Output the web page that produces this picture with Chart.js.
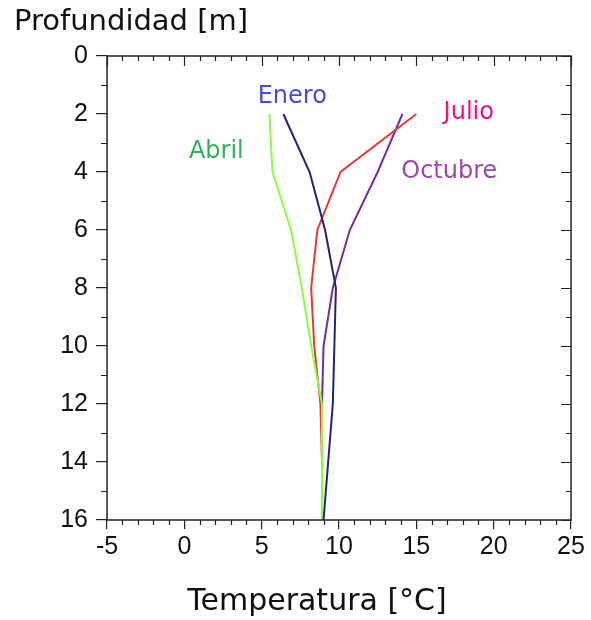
<!DOCTYPE html>
<html>
<head>
<meta charset="utf-8">
<script src="https://cdn.jsdelivr.net/npm/chart.js@4.4.0/dist/chart.umd.min.js"></script>
<style>
  html, body { margin: 0; padding: 0; background: #fff; }
  #wrap { width: 591px; height: 620px; }
</style>
</head>
<body>
<div id="wrap"><canvas id="tempChart"></canvas></div>
<script>
// depth of each reading [m]
var depths = [2, 4, 6, 8, 10, 12, 14, 16];

// temperature per month [°C]
var enero   = [6.4, 8.1, 9.1, 9.8, 9.7, 9.6, 9.3, 9.0];
var abril   = [5.5, 5.7, 6.9, 7.6, 8.2, 8.9, 8.9, 8.9];
var julio   = [15.0, 10.1, 8.6, 8.2, 8.4, 8.8, 8.9];
var octubre = [14.1, 12.5, 10.7, 9.6, 9.0, 8.9];

// axis ticks
var xTicks = [-5, 0, 5, 10, 15, 20, 25];
var yTicks = [0, 2, 4, 6, 8, 10, 12, 14, 16];

// month names written next to the curves (in data units)
var labelNames = ['Enero', 'Abril', 'Julio', 'Octubre'];
var labelX     = [6.98, 2.07, 18.39, 17.13];
var labelY     = [1.41, 3.31, 1.97, 4.0];
var labelColor = ['#4a4ad8', '#2eb35a', '#ff0a84', '#9a4aaa'];

var xTitle = 'Temperatura [°C]';

function toPoints(temps) {
    return temps.map(function (t, i) { return { x: t, y: depths[i] }; });
}

// frame, minor ticks, mirrored ticks on top/right, curve names and x title
var frameTicks = {
    id: 'frameTicks',
    afterDraw: function (chart) {
        var c = chart.ctx, a = chart.chartArea;
        var xs = chart.scales.x, ys = chart.scales.y;
        c.save();
        c.strokeStyle = '#222';
        c.lineWidth = 1.5;
        c.strokeRect(a.left, a.top, a.right - a.left, a.bottom - a.top);
        c.lineWidth = 1.2;
        c.beginPath();
        for (var v = -5; v <= 25; v++) {
            var px = Math.round(xs.getPixelForValue(v)) + 0.5;
            var major = v % 5 === 0;
            if (!major) {
                c.moveTo(px, a.bottom); c.lineTo(px, a.bottom + 5);
            }
            c.moveTo(px, a.top); c.lineTo(px, a.top + (major ? 10 : 5));
        }
        for (var d = 0; d <= 16; d++) {
            var py = Math.round(ys.getPixelForValue(d)) + 0.5;
            var maj = d % 2 === 0;
            if (!maj) {
                c.moveTo(a.left, py); c.lineTo(a.left - 6, py);
            }
            c.moveTo(a.right, py); c.lineTo(a.right - (maj ? 10 : 5), py);
        }
        c.stroke();

        c.textAlign = 'center';
        c.textBaseline = 'middle';
        c.font = '24px "DejaVu Sans"';
        labelNames.forEach(function (name, i) {
            c.fillStyle = labelColor[i];
            c.fillText(name, xs.getPixelForValue(labelX[i]), ys.getPixelForValue(labelY[i]));
        });

        // the x title sits left of the plot centre in the original
        c.font = '30px "DejaVu Sans"';
        c.fillStyle = '#111';
        c.fillText(xTitle, 317, 602);
        c.restore();
    }
};

var ctx = document.getElementById('tempChart').getContext('2d');

var tempChart = new Chart(ctx, {
    type: 'scatter',
    data: {
        datasets: [
            { label: 'Enero',   data: toPoints(enero),   borderColor: '#22227a' },
            { label: 'Abril',   data: toPoints(abril),   borderColor: '#88ff44' },
            { label: 'Julio',   data: toPoints(julio),   borderColor: '#e83838' },
            { label: 'Octubre', data: toPoints(octubre), borderColor: '#7a2a9a' }
        ].map(function (ds) {
            ds.showLine = true;
            ds.borderWidth = 2;
            ds.pointRadius = 0;
            ds.fill = false;
            return ds;
        })
    },
    options: {
        responsive: true,
        maintainAspectRatio: false,
        animation: false,
        layout: { padding: { left: 14, right: 20, top: 0, bottom: 0 } },
        plugins: {
            legend: { display: false },
            tooltip: { enabled: false },
            title: {
                display: true,
                text: 'Profundidad [m]',
                align: 'start',
                color: '#111',
                font: { family: '"DejaVu Sans"', size: 29, weight: 'normal', lineHeight: 1.2 },
                padding: { top: 5.2, bottom: 16 }
            }
        },
        scales: {
            x: {
                type: 'linear',
                min: -5,
                max: 25,
                afterBuildTicks: function (s) { s.ticks = xTicks.map(function (v) { return { value: v }; }); },
                afterFit: function (s) { s.height = 100; },
                border: { display: false },
                grid: { drawOnChartArea: false, drawTicks: true, tickLength: 9, color: '#222', lineWidth: 1.2 },
                ticks: { color: '#111', padding: 3, font: { family: '"Liberation Sans"', size: 25 } }
            },
            y: {
                type: 'linear',
                reverse: true,
                min: 0,
                max: 16,
                afterBuildTicks: function (s) { s.ticks = yTicks.map(function (v) { return { value: v }; }); },
                afterFit: function (s) { s.width = 93; },
                border: { display: false },
                grid: { drawOnChartArea: false, drawTicks: true, tickLength: 11, color: '#222', lineWidth: 1.2 },
                ticks: { color: '#111', padding: 8, font: { family: '"Liberation Sans"', size: 25 } }
            }
        }
    },
    plugins: [frameTicks]
});
</script>
</body>
</html>
